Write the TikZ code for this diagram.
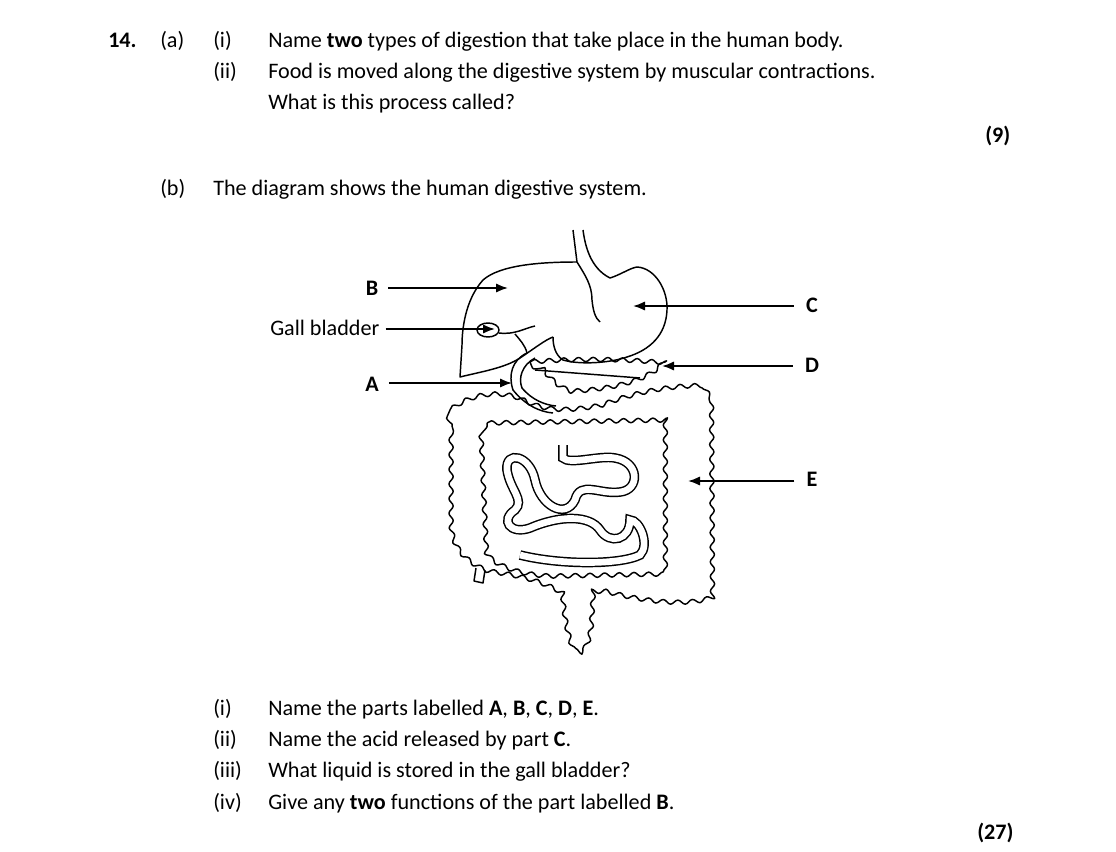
\documentclass[tikz,border=0pt]{standalone}
\usepackage{fontspec}
\setmainfont{Carlito}
\usetikzlibrary{decorations.pathmorphing,arrows.meta}
\begin{document}
\begin{tikzpicture}[x=0.75pt,y=-0.75pt,
  txt/.style={anchor=base west,inner sep=0pt,font=\fontsize{16.6}{19}\selectfont},
  lab/.style={anchor=base,inner sep=0pt,font=\fontsize{16.6}{19}\selectfont\bfseries},
  organ/.style={line width=1.1pt,line join=round},
  wavy/.style={organ,decorate,decoration={snake,segment length=11,amplitude=1.6}},
  arr/.style={line width=1.4pt,-{Latex[length=9pt,width=7pt]}}]
\path[use as bounding box] (0,0) rectangle (1116,852);
% question text
\node[txt] (q14) at (108,48) {\textbf{14.}};
\node[txt] (qa) at (160,48) {(a)};
\node[txt] (ai) at (213,48) {(i)};
\node[txt] (ait) at (268,48) {Name \textbf{two} types of digestion that take place in the human body.};
\node[txt] (aii) at (213,79) {(ii)};
\node[txt] (aiit) at (268,79) {Food is moved along the digestive system by muscular contractions.};
\node[txt] (aiit2) at (268,110) {What is this process called?};
\node[txt] (m9) at (985,143) {\textbf{(9)}};
\node[txt] (qb) at (160,196) {(b)};
\node[txt] (bt) at (213,196) {The diagram shows the human digestive system.};
\node[txt] (bi) at (213,715) {(i)};
\node[txt] (bit) at (268,715) {Name the parts labelled \textbf{A}, \textbf{B}, \textbf{C}, \textbf{D}, \textbf{E}.};
\node[txt] (bii) at (213,746) {(ii)};
\node[txt] (biit) at (268,746) {Name the acid released by part \textbf{C}.};
\node[txt] (biii) at (213,777) {(iii)};
\node[txt] (biiit) at (268,777) {What liquid is stored in the gall bladder?};
\node[txt] (biv) at (213,809) {(iv)};
\node[txt] (bivt) at (268,809) {Give any \textbf{two} functions of the part labelled \textbf{B}.};
\node[txt] (m27) at (977,839) {\textbf{(27)}};
% liver
\draw[organ] (577,262) .. controls (540,262) and (500,265) .. (483,280)
  .. controls (465,300) and (462,330) .. (462,345) -- (460,377)
  .. controls (480,372) and (505,368) .. (520,358)
  .. controls (535,348) and (545,340) .. (553,337);
% esophagus + stomach
\draw[organ] (573,230) -- (577,262) .. controls (585,275) and (592,285) .. (592,300) .. controls (593,310) and (595,318) .. (600,322);
\draw[organ] (583,230) .. controls (585,245) and (590,268) .. (610,278)
  .. controls (620,275) and (630,268) .. (637,267)
  .. controls (655,268) and (668,290) .. (667,310)
  .. controls (666,335) and (650,350) .. (627,357)
  .. controls (610,363) and (580,365) .. (563,360)
  .. controls (555,355) and (553,345) .. (553,337);
% gall bladder
\draw[organ] (488,330) ellipse (11 and 7);
\draw[organ] (499,333) .. controls (515,335) and (525,328) .. (535,326);
\draw[organ] (515,334) .. controls (520,340) and (525,345) .. (527,353);
% pancreas
\draw[wavy] (530,362) .. controls (580,358) and (630,360) .. (660,363)
  .. controls (655,380) and (620,395) .. (563,397) .. controls (545,390) and (535,375) .. (530,362);
\draw[organ] (535,370) -- (640,378);
% duodenum
\draw[organ] (527,353) .. controls (512,360) and (508,375) .. (513,390) .. controls (525,405) and (540,412) .. (553,413);
\draw[organ] (535,358) .. controls (522,365) and (518,378) .. (522,388) .. controls (532,400) and (545,405) .. (556,406);
% large intestine
\draw[wavy] (450,410) .. controls (470,395) and (500,392) .. (520,402)
  .. controls (540,412) and (560,415) .. (600,407)
  .. controls (630,395) and (670,387) .. (700,388)
  -- (707,400) -- (708,595) .. controls (690,605) and (650,605) .. (600,592)
  -- (580,592) -- (578,625) .. controls (576,645) and (570,655) .. (563,653)
  .. controls (556,640) and (552,620) .. (550,590)
  .. controls (530,578) and (505,573) .. (485,570)
  -- (476,568)
  .. controls (455,560) and (440,545) .. (440,520) -- (440,433) -- cycle;
\draw[organ] (485,570) -- (483,583) -- (474,581) -- (476,568);
\draw[wavy] (487,423) -- (667,420) -- (667,573) -- (560,575) .. controls (530,575) and (500,565) .. (493,553) -- cycle;
% small intestine
\draw[line width=1.1pt,double distance=5pt] (563,445) -- (563,458) .. controls (570,465) and (600,455) .. (615,458)
  .. controls (640,462) and (640,490) .. (620,492) .. controls (600,495) and (580,480) .. (575,500)
  .. controls (565,520) and (540,505) .. (535,480) .. controls (530,455) and (505,450) .. (507,470)
  .. controls (510,490) and (525,500) .. (515,510) .. controls (500,520) and (510,535) .. (530,528)
  .. controls (560,515) and (590,515) .. (600,530) .. controls (610,545) and (630,540) .. (630,520)
  .. controls (640,520) and (650,545) .. (640,555) .. controls (620,565) and (560,565) .. (520,555);
% labels and arrows
\node[lab] (B) at (372,295) {B};
\node[txt] (G) at (270,335) {Gall bladder};
\node[lab] (A) at (372,391) {A};
\node[lab] (C) at (812,312) {C};
\node[lab] (D) at (812,372) {D};
\node[lab] (E) at (812,486) {E};
\coordinate (tB) at (508,288);
\coordinate (tG) at (495,329);
\coordinate (tA) at (512,383);
\coordinate (tC) at (633,306);
\coordinate (tD) at (662,366);
\coordinate (tE) at (688,481);
\draw[arr] (B.east |- tB) ++(10,0) -- (tB);
\draw[arr] (G.east |- tG) ++(6,0) -- (tG);
\draw[arr] (A.east |- tA) ++(10,0) -- (tA);
\draw[arr] (C.west |- tC) ++(-12,0) -- (tC);
\draw[arr] (D.west |- tD) ++(-12,0) -- (tD);
\draw[arr] (E.west |- tE) ++(-12,0) -- (tE);
\end{tikzpicture}
\end{document}
